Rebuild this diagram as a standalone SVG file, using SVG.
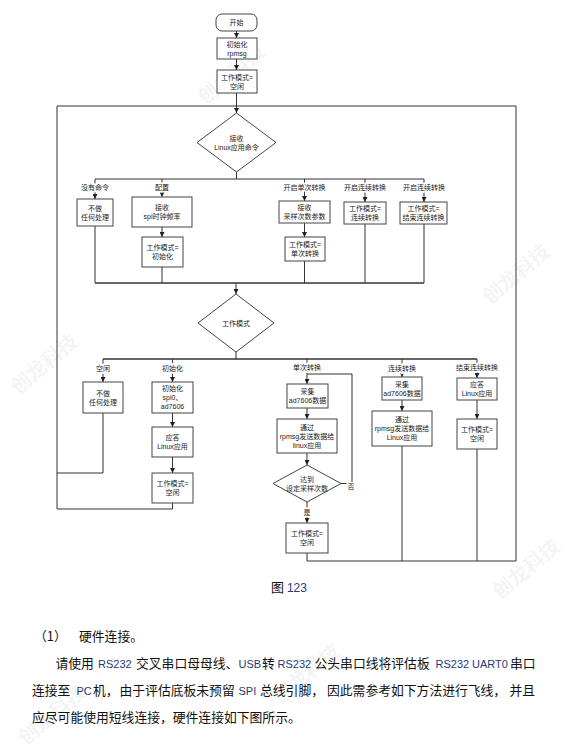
<svg xmlns="http://www.w3.org/2000/svg" width="570" height="752" viewBox="0 0 570 752">
<style>
.bx{fill:#fff;stroke:#444;stroke-width:1}
.ln{fill:none;stroke:#333;stroke-width:1}
.t{font-family:"Liberation Sans","Noto Sans CJK SC",sans-serif;font-size:7px;fill:#222;text-anchor:middle;dominant-baseline:central}
.lb{font-family:"Liberation Sans","Noto Sans CJK SC",sans-serif;font-size:7px;fill:#222;text-anchor:middle;dominant-baseline:central;stroke:#fff;stroke-width:3px;paint-order:stroke}
.p{font-family:"Noto Sans CJK SC",sans-serif;font-size:12.8px;fill:#111}
.en{font-family:"Liberation Sans",sans-serif;font-size:11px;fill:#1f3a78}
.wm{font-family:"Noto Sans CJK SC",sans-serif;font-size:20px;font-weight:bold;fill:#000;opacity:0.04}
</style>
<defs>
<marker id="arr" viewBox="0 0 6 6" refX="6" refY="3" markerUnits="userSpaceOnUse" markerWidth="5" markerHeight="5" orient="auto"><path d="M0,0 L6,3 L0,6 z" fill="#222"/></marker>
</defs>
<rect width="570" height="752" fill="#fff"/>
<g id="watermark">
<text class="wm" transform="translate(205,105) rotate(-40)">创龙科技</text>
<text class="wm" transform="translate(490,305) rotate(-40)">创龙科技</text>
<text class="wm" transform="translate(18,395) rotate(-40)">创龙科技</text>
<text class="wm" transform="translate(500,600) rotate(-40)">创龙科技</text>
<text class="wm" transform="translate(280,705) rotate(-40)">创龙科技</text>
<text class="wm" transform="translate(26,746) rotate(-40)">创龙科技</text>
</g>
<g id="connectors">
<line class="ln" x1="236.5" y1="31" x2="236.5" y2="38" marker-end="url(#arr)"/>
<line class="ln" x1="236.5" y1="59" x2="236.5" y2="70" marker-end="url(#arr)"/>
<line class="ln" x1="236.5" y1="93" x2="236.5" y2="113" marker-end="url(#arr)"/>
<polyline class="ln" points="57,509 57,106 516,106 516,561"/>
<line class="ln" x1="236.5" y1="172" x2="236.5" y2="179"/>
<line class="ln" x1="95" y1="179" x2="424" y2="179"/>
<line class="ln" x1="95" y1="179" x2="95" y2="199" marker-end="url(#arr)"/>
<line class="ln" x1="162" y1="179" x2="162" y2="197" marker-end="url(#arr)"/>
<line class="ln" x1="304.5" y1="179" x2="304.5" y2="201" marker-end="url(#arr)"/>
<line class="ln" x1="365" y1="179" x2="365" y2="202" marker-end="url(#arr)"/>
<line class="ln" x1="424" y1="179" x2="424" y2="202" marker-end="url(#arr)"/>
<line class="ln" x1="162" y1="227" x2="162" y2="237" marker-end="url(#arr)"/>
<line class="ln" x1="304.5" y1="223" x2="304.5" y2="237" marker-end="url(#arr)"/>
<line class="ln" x1="95" y1="226" x2="95" y2="283"/>
<line class="ln" x1="162" y1="267" x2="162" y2="283"/>
<line class="ln" x1="304.5" y1="261" x2="304.5" y2="283"/>
<line class="ln" x1="365" y1="224" x2="365" y2="283"/>
<line class="ln" x1="424" y1="224" x2="424" y2="283"/>
<line class="ln" x1="95" y1="283" x2="424" y2="283" style="stroke-width:1.3"/>
<line class="ln" x1="236" y1="283" x2="236" y2="294" marker-end="url(#arr)"/>
<line class="ln" x1="236" y1="352" x2="236" y2="359"/>
<line class="ln" x1="103" y1="359" x2="477" y2="359" style="stroke-width:1.3"/>
<line class="ln" x1="103" y1="359" x2="103" y2="382" marker-end="url(#arr)"/>
<line class="ln" x1="172.5" y1="359" x2="172.5" y2="382" marker-end="url(#arr)"/>
<line class="ln" x1="307" y1="359" x2="307" y2="384" marker-end="url(#arr)"/>
<line class="ln" x1="402" y1="359" x2="402" y2="377" marker-end="url(#arr)"/>
<line class="ln" x1="477" y1="359" x2="477" y2="378" marker-end="url(#arr)"/>
<line class="ln" x1="172.5" y1="413" x2="172.5" y2="427" marker-end="url(#arr)"/>
<line class="ln" x1="172.5" y1="457" x2="172.5" y2="473" marker-end="url(#arr)"/>
<line class="ln" x1="307" y1="408" x2="307" y2="419" marker-end="url(#arr)"/>
<line class="ln" x1="307" y1="453" x2="307" y2="465" marker-end="url(#arr)"/>
<line class="ln" x1="307" y1="502" x2="307" y2="523" marker-end="url(#arr)"/>
<polyline class="ln" points="341,483.5 352,483.5 352,374 307,374"/>
<line class="ln" x1="402" y1="400" x2="402" y2="411" marker-end="url(#arr)"/>
<line class="ln" x1="477" y1="400" x2="477" y2="419" marker-end="url(#arr)"/>
<polyline class="ln" points="103,413 103,473 57,473"/>
<polyline class="ln" points="172.5,503 172.5,509 57,509"/>
<polyline class="ln" points="307,553 307,561 516,561"/>
<line class="ln" x1="402" y1="446" x2="402" y2="561"/>
<line class="ln" x1="477" y1="449" x2="477" y2="561"/>
<text class="lb" x="95" y="187">没有命令</text>
<text class="lb" x="162" y="187">配置</text>
<text class="lb" x="304.5" y="187">开启单次转换</text>
<text class="lb" x="365" y="187">开启连续转换</text>
<text class="lb" x="424" y="187">开启连续转换</text>
<text class="lb" x="103" y="368">空闲</text>
<text class="lb" x="172.5" y="368">初始化</text>
<text class="lb" x="307" y="367">单次转换</text>
<text class="lb" x="402" y="368">连续转换</text>
<text class="lb" x="477" y="367">结束连续转换</text>
<text class="lb" x="351" y="486">否</text>
<text class="lb" x="307" y="512">是</text>
</g>
<g id="n_start"><rect class="bx" x="216" y="14" width="41" height="17" rx="6"/><text class="t" x="236.5" y="22.5">开始</text></g>
<g id="n_init_rpmsg"><rect class="bx" x="217" y="38" width="40" height="21"/><text class="t" x="237" y="44.5">初始化</text><text class="t" x="237" y="53">rpmsg</text></g>
<g id="n_idle0"><rect class="bx" x="217" y="70" width="40" height="23"/><text class="t" x="237" y="77">工作模式=</text><text class="t" x="237" y="86">空闲</text></g>
<g id="d_cmd"><polygon class="bx" points="236.5,113 276,142.5 236.5,172 197,142.5"/><text class="t" x="236.5" y="138">接收</text><text class="t" x="236.5" y="147">Linux应用命令</text></g>
<g id="n_none1"><rect class="bx" x="77" y="199" width="36" height="27"/><text class="t" x="95" y="208">不做</text><text class="t" x="95" y="217">任何处理</text></g>
<g id="n_cfg"><rect class="bx" x="132" y="197" width="60" height="30"/><text class="t" x="162" y="207.5">接收</text><text class="t" x="162" y="216.5">spi时钟频率</text></g>
<g id="n_mode_init"><rect class="bx" x="142" y="237" width="41" height="30"/><text class="t" x="162.5" y="247.5">工作模式=</text><text class="t" x="162.5" y="256.5">初始化</text></g>
<g id="n_recv"><rect class="bx" x="279" y="201" width="51" height="22"/><text class="t" x="304.5" y="207.5">接收</text><text class="t" x="304.5" y="216.5">采样次数参数</text></g>
<g id="n_mode_single"><rect class="bx" x="285" y="237" width="40" height="24"/><text class="t" x="305" y="244.5">工作模式=</text><text class="t" x="305" y="253.5">单次转换</text></g>
<g id="n_mode_cont"><rect class="bx" x="344" y="202" width="42" height="22"/><text class="t" x="365" y="208.5">工作模式=</text><text class="t" x="365" y="217.5">连续转换</text></g>
<g id="n_mode_end"><rect class="bx" x="400" y="202" width="47" height="22"/><text class="t" x="423.5" y="208.5">工作模式=</text><text class="t" x="423.5" y="217.5">结束连续转换</text></g>
<g id="d_mode"><polygon class="bx" points="236,294 274,323 236,352 198,323"/><text class="t" x="236" y="323">工作模式</text></g>
<g id="n_none2"><rect class="bx" x="83" y="382" width="40" height="31"/><text class="t" x="103" y="393">不做</text><text class="t" x="103" y="402">任何处理</text></g>
<g id="n_init_spi"><rect class="bx" x="152" y="382" width="41" height="31"/><text class="t" x="172.5" y="388.5">初始化</text><text class="t" x="172.5" y="397.5">spi0、</text><text class="t" x="172.5" y="406.5">ad7606</text></g>
<g id="n_ack1"><rect class="bx" x="152" y="427" width="41" height="30"/><text class="t" x="172.5" y="437.5">应答</text><text class="t" x="172.5" y="446.5">Linux应用</text></g>
<g id="n_idle1"><rect class="bx" x="152" y="473" width="41" height="30"/><text class="t" x="172.5" y="483.5">工作模式=</text><text class="t" x="172.5" y="492.5">空闲</text></g>
<g id="n_collect1"><rect class="bx" x="287" y="384" width="41" height="24"/><text class="t" x="307.5" y="391.5">采集</text><text class="t" x="307.5" y="400.5">ad7606数据</text></g>
<g id="n_send1"><rect class="bx" x="277" y="419" width="60" height="34"/><text class="t" x="307" y="427">通过</text><text class="t" x="307" y="436">rpmsg发送数据给</text><text class="t" x="307" y="445">linux应用</text></g>
<g id="d_count"><polygon class="bx" points="307,465 341,483.5 307,502 273,483.5"/><text class="t" x="307" y="479">达到</text><text class="t" x="307" y="488">设定采样次数</text></g>
<g id="n_idle2"><rect class="bx" x="286" y="523" width="42" height="30"/><text class="t" x="307" y="533.5">工作模式=</text><text class="t" x="307" y="542.5">空闲</text></g>
<g id="n_collect2"><rect class="bx" x="382" y="377" width="40" height="23"/><text class="t" x="402" y="384">采集</text><text class="t" x="402" y="393">ad7606数据</text></g>
<g id="n_send2"><rect class="bx" x="372" y="411" width="60" height="35"/><text class="t" x="402" y="419.5">通过</text><text class="t" x="402" y="428.5">rpmsg发送数据给</text><text class="t" x="402" y="437.5">Linux应用</text></g>
<g id="n_ack2"><rect class="bx" x="457" y="378" width="40" height="22"/><text class="t" x="477" y="384.5">应答</text><text class="t" x="477" y="393.5">Linux应用</text></g>
<g id="n_idle3"><rect class="bx" x="457" y="419" width="40" height="30"/><text class="t" x="477" y="429.5">工作模式=</text><text class="t" x="477" y="438.5">空闲</text></g>
<g id="caption"><text class="p" x="271" y="592" style="font-size:13px">图 <tspan class="en" style="font-size:12px">123</tspan></text></g>
<g id="paragraph">
<text class="p" y="641"><tspan x="34">（1）</tspan><tspan x="79">硬件连接。</tspan></text>
<text class="p" y="668"><tspan x="55.5">请使用</tspan><tspan class="en" x="98">RS232</tspan><tspan x="136">交叉串口母母线、</tspan><tspan class="en" x="238.5">USB</tspan><tspan x="262">转</tspan><tspan class="en" x="277.5">RS232</tspan><tspan x="314.5">公头串口线将评估板</tspan><tspan class="en" x="435.5">RS232</tspan><tspan class="en" x="472">UART0</tspan><tspan x="510">串口</tspan></text>
<text class="p" y="695"><tspan x="32">连接至</tspan><tspan class="en" x="76.5">PC</tspan><tspan x="93">机，</tspan><tspan x="119.5">由于评估底板未预留</tspan><tspan class="en" x="238.5">SPI</tspan><tspan x="260">总线引脚，</tspan><tspan x="327">因此需参考如下方法进行飞线，</tspan><tspan x="509.5">并且</tspan></text>
<text class="p" x="32" y="722">应尽可能使用短线连接，硬件连接如下图所示。</text>
</g>
</svg>
